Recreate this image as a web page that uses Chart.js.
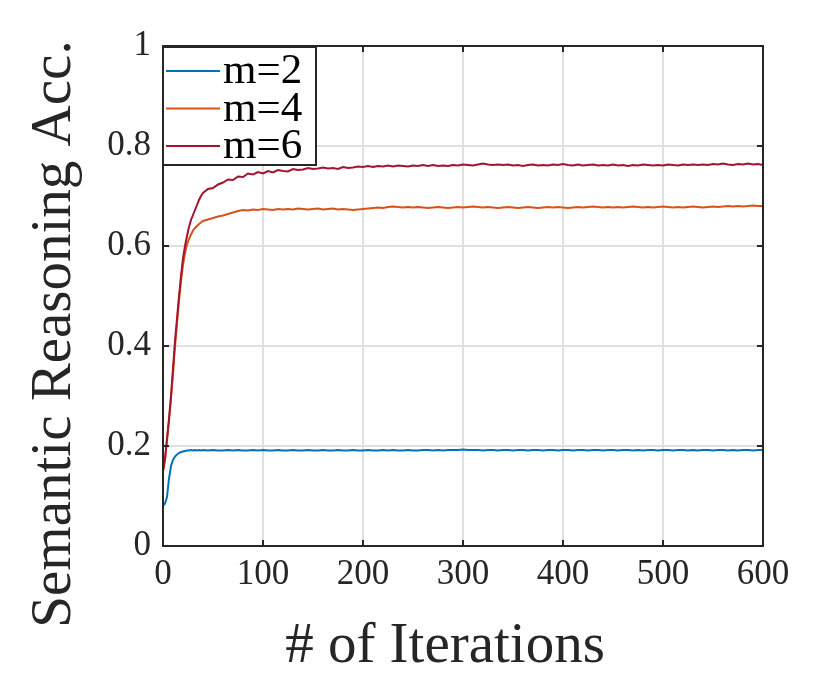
<!DOCTYPE html>
<html>
<head>
<meta charset="utf-8">
<script src="https://cdn.jsdelivr.net/npm/chart.js@4.4.1/dist/chart.umd.min.js"></script>
<style>
  html, body { margin: 0; padding: 0; background: #ffffff; }
  #wrap { width: 830px; height: 695px; }
</style>
</head>
<body>
<div id="wrap"><canvas id="c" width="830" height="695"></canvas></div>
<script>
// ---------- data ----------
const iterations = [0,2,4,6,8,10,12,14,16,18,20,22,24,26,28,30,32,34,36,38,40,
  45,50,55,60,65,70,75,80,85,90,95,100,105,110,115,120,125,130,135,140,
  145,150,155,160,165,170,175,180,185,190,195,200,205,210,215,220,225,230,235,240,
  245,250,255,260,265,270,275,280,285,290,295,300,305,310,315,320,325,330,335,340,
  345,350,355,360,365,370,375,380,385,390,395,400,405,410,415,420,425,430,435,440,
  445,450,455,460,465,470,475,480,485,490,495,500,505,510,515,520,525,530,535,540,
  545,550,555,560,565,570,575,580,585,590,595,600];

const seriesLabels = ["m=2", "m=4", "m=6"];

const accM2 = [0.080,0.085,0.098,0.135,0.160,0.172,0.179,0.183,0.186,0.188,0.189,0.190,0.191,0.191,0.192,0.191,0.192,0.191,0.192,0.191,0.192,
  0.191,0.192,0.191,0.191,0.192,0.191,0.192,0.191,0.191,0.192,
  0.191,0.192,0.191,0.191,0.192,0.191,0.191,0.192,0.191,0.191,
  0.192,0.191,0.191,0.192,0.191,0.191,0.192,0.191,0.191,0.192,
  0.191,0.191,0.192,0.191,0.191,0.192,0.191,0.192,0.191,0.191,
  0.192,0.191,0.191,0.192,0.192,0.191,0.192,0.191,0.192,0.192,
  0.192,0.193,0.192,0.192,0.192,0.191,0.192,0.192,0.191,0.192,
  0.192,0.191,0.192,0.192,0.191,0.192,0.192,0.191,0.192,0.192,
  0.191,0.192,0.192,0.191,0.192,0.192,0.191,0.192,0.192,0.191,
  0.192,0.192,0.191,0.192,0.192,0.191,0.192,0.191,0.192,0.192,
  0.191,0.192,0.192,0.191,0.192,0.192,0.191,0.192,0.191,0.192,
  0.192,0.191,0.192,0.192,0.191,0.192,0.191,0.192,0.192,0.191,
  0.192,0.192];

const accM4 = [0.150,0.172,0.210,0.250,0.295,0.345,0.398,0.445,0.490,0.530,0.562,0.586,0.603,0.614,0.623,0.631,0.636,0.640,0.644,0.647,0.650,
  0.653,0.656,0.659,0.661,0.664,0.667,0.670,0.672,0.671,0.673,
  0.672,0.674,0.673,0.672,0.674,0.673,0.674,0.673,0.675,0.674,
  0.673,0.674,0.675,0.673,0.674,0.675,0.673,0.674,0.673,0.672,
  0.673,0.674,0.675,0.676,0.677,0.676,0.678,0.679,0.678,0.677,
  0.678,0.677,0.678,0.677,0.676,0.677,0.678,0.677,0.676,0.677,
  0.678,0.677,0.678,0.679,0.678,0.677,0.678,0.677,0.676,0.677,
  0.678,0.677,0.676,0.677,0.678,0.677,0.676,0.677,0.678,0.677,
  0.678,0.677,0.676,0.677,0.678,0.677,0.678,0.679,0.678,0.677,
  0.678,0.677,0.678,0.677,0.678,0.679,0.678,0.677,0.678,0.677,
  0.678,0.679,0.678,0.677,0.678,0.677,0.678,0.679,0.678,0.677,
  0.678,0.679,0.678,0.679,0.680,0.679,0.680,0.679,0.680,0.681,
  0.680,0.680];

const accM6 = [0.150,0.175,0.215,0.255,0.300,0.355,0.410,0.455,0.500,0.540,0.575,0.600,0.620,0.638,0.652,0.662,0.672,0.682,0.692,0.700,0.706,
  0.714,0.716,0.723,0.727,0.733,0.732,0.739,0.738,0.745,0.743,
  0.748,0.745,0.750,0.747,0.752,0.750,0.749,0.754,0.752,0.753,
  0.756,0.754,0.755,0.757,0.755,0.756,0.754,0.758,0.756,0.757,
  0.759,0.758,0.760,0.758,0.760,0.759,0.761,0.759,0.761,0.760,
  0.759,0.761,0.760,0.762,0.760,0.762,0.760,0.761,0.760,0.762,
  0.761,0.763,0.762,0.761,0.763,0.765,0.763,0.762,0.763,0.762,
  0.763,0.761,0.762,0.760,0.762,0.763,0.761,0.762,0.761,0.763,
  0.762,0.764,0.762,0.761,0.763,0.761,0.762,0.763,0.761,0.762,
  0.761,0.763,0.761,0.762,0.760,0.762,0.761,0.763,0.762,0.761,
  0.762,0.761,0.763,0.762,0.761,0.763,0.762,0.763,0.762,0.763,
  0.762,0.764,0.763,0.765,0.763,0.762,0.764,0.763,0.765,0.763,
  0.764,0.762];

const xTickValues = [0,100,200,300,400,500,600];
const xTickLabels = ["0","100","200","300","400","500","600"];
const yTickValues = [0,0.2,0.4,0.6,0.8,1];
const yTickLabels = ["0","0.2","0.4","0.6","0.8","1"];
const xTitle = "# of Iterations";
const yTitle = "Semantic Reasoning Acc.";

// ---------- styling ----------
const COLORS = ["#0072BD", "#D95319", "#A2142F"];
const AXIS = "#262626";
const FAMILY = "Liberation Serif";
const FONT = "'Liberation Serif', serif";

Chart.defaults.font.family = FAMILY;
Chart.defaults.color = AXIS;

function pts(vals) { return iterations.map((it, i) => ({ x: it, y: vals[i] })); }

const seriesValues = [accM2, accM4, accM6];
const datasets = seriesValues.map((vals, i) => ({
  label: seriesLabels[i],
  data: pts(vals),
  borderColor: COLORS[i],
  backgroundColor: COLORS[i],
  borderWidth: 2,
  pointRadius: 0,
  tension: 0,
  fill: false,
  order: 2 - i
}));

const frame = {
  id: 'frame',
  afterDraw(chart) {
    const ctx = chart.ctx, a = chart.chartArea;
    const xs = chart.scales.x, ys = chart.scales.y;
    ctx.save();
    ctx.strokeStyle = AXIS;
    ctx.lineWidth = 2;
    const T = 6;
    ctx.beginPath();
    yTickValues.forEach(v => {
      const p = ys.getPixelForValue(v);
      ctx.moveTo(a.left, p); ctx.lineTo(a.left + T, p);
      ctx.moveTo(a.right, p); ctx.lineTo(a.right - T, p);
    });
    xTickValues.forEach(v => {
      const p = xs.getPixelForValue(v);
      ctx.moveTo(p, a.bottom); ctx.lineTo(p, a.bottom - T);
      ctx.moveTo(p, a.top); ctx.lineTo(p, a.top + T);
    });
    ctx.stroke();
    ctx.strokeRect(a.left, a.top, a.right - a.left, a.bottom - a.top);

    // axis titles
    ctx.fillStyle = AXIS;
    ctx.font = "57px " + FONT;
    ctx.textAlign = "center";
    ctx.textBaseline = "alphabetic";
    ctx.fillText(xTitle, (a.left + a.right) / 2 - 18, 662);
    ctx.save();
    ctx.translate(70, 334);
    ctx.rotate(-Math.PI / 2);
    ctx.fillText(yTitle, 0, 0);
    ctx.restore();

    // legend (top-left inside the axes)
    const lx = a.left, ly = a.top + 1, lw = 153, lh = 118;
    ctx.fillStyle = "#ffffff";
    ctx.fillRect(lx, ly, lw, lh);
    ctx.strokeStyle = AXIS;
    ctx.lineWidth = 2;
    ctx.strokeRect(lx, ly, lw, lh);
    ctx.font = "43px " + FONT;
    ctx.textAlign = "left";
    chart.data.datasets.forEach((ds, i) => {
      const cy = ly + 24 + i * 37.5;
      ctx.strokeStyle = ds.borderColor;
      ctx.lineWidth = 2;
      ctx.beginPath();
      ctx.moveTo(lx + 3, cy); ctx.lineTo(lx + 57, cy);
      ctx.stroke();
      ctx.fillStyle = "#000000";
      ctx.fillText(ds.label, lx + 60, cy + 12);
    });
    ctx.restore();
  }
};

new Chart(document.getElementById('c'), {
  type: 'line',
  data: { datasets },
  options: {
    responsive: false,
    animation: false,
    devicePixelRatio: 1,
    layout: { padding: { top: 46, right: 67, left: 0, bottom: 0 } },
    plugins: { legend: { display: false }, tooltip: { enabled: false } },
    scales: {
      x: {
        type: 'linear', min: 0, max: 600,
        afterFit(s) { s.height = 149; },
        afterBuildTicks(s) { s.ticks = xTickValues.map(v => ({ value: v })); },
        ticks: {
          callback: (v) => xTickLabels[xTickValues.indexOf(v)] ?? "",
          font: { family: FAMILY, size: 35 }, color: AXIS, padding: 8, maxRotation: 0
        },
        grid: { color: "#e0e0e0", lineWidth: 2, drawTicks: false },
        border: { display: false }
      },
      y: {
        type: 'linear', min: 0, max: 1,
        afterFit(s) { s.width = 163; },
        afterBuildTicks(s) { s.ticks = yTickValues.map(v => ({ value: v })); },
        ticks: {
          callback: (v) => yTickLabels[yTickValues.indexOf(v)] ?? "",
          font: { family: FAMILY, size: 35 }, color: AXIS, padding: 12
        },
        grid: { color: "#e0e0e0", lineWidth: 2, drawTicks: false },
        border: { display: false }
      }
    }
  },
  plugins: [frame]
});
</script>
</body>
</html>
